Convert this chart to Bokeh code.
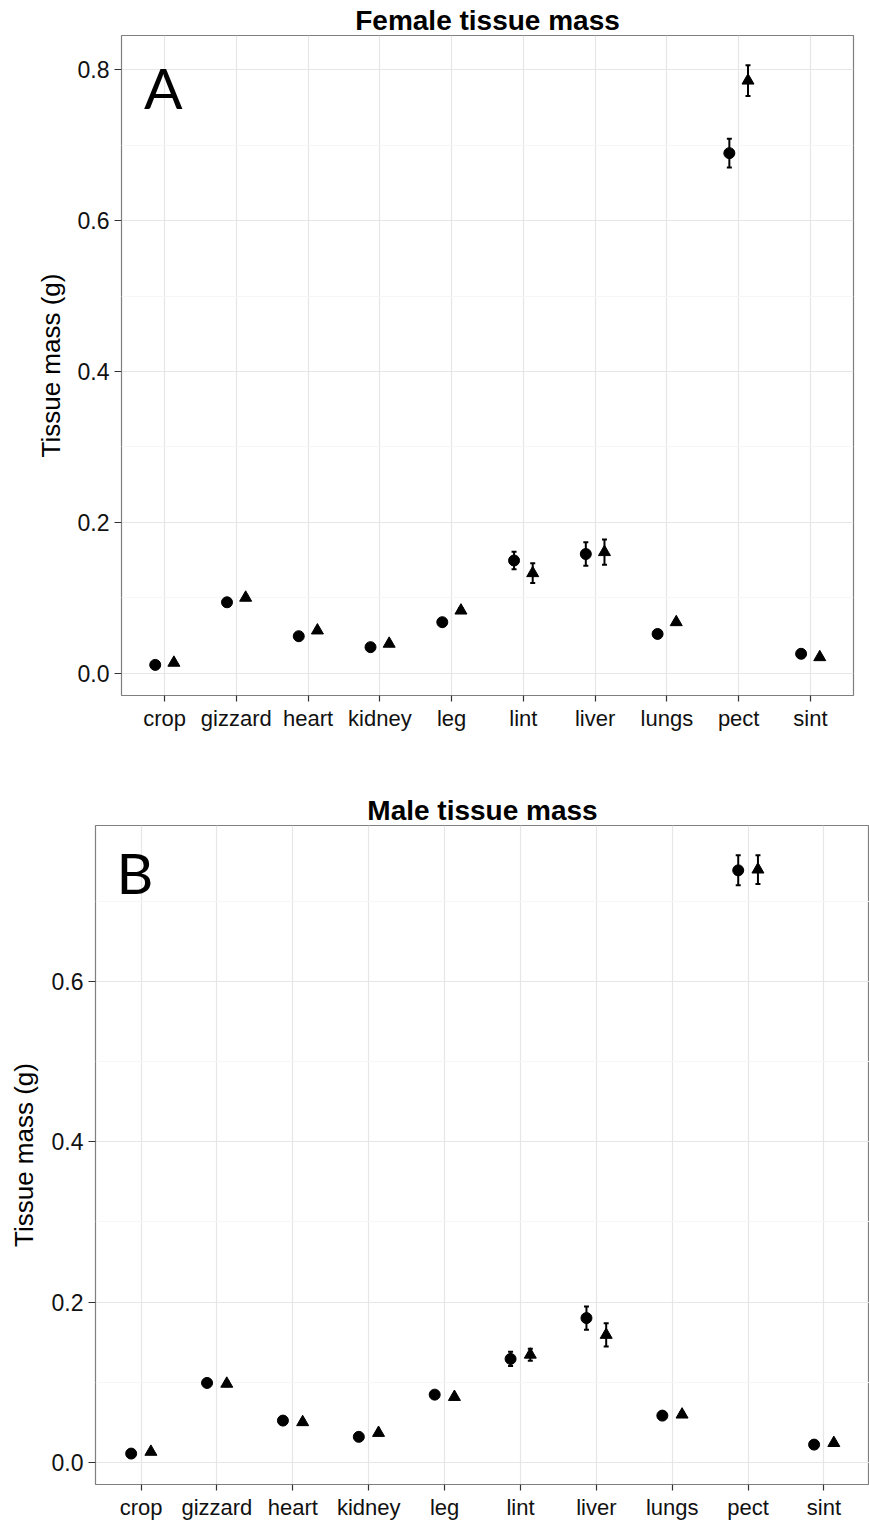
from bokeh.plotting import figure
from bokeh.layouts import column
from bokeh.models import (Range1d, FixedTicker, ColumnDataSource, Whisker, TeeHead,
                          Label, PrintfTickFormatter)
from bokeh.embed import file_html
from bokeh.resources import INLINE
import numpy as np

tissues = ["crop", "gizzard", "heart", "kidney", "leg", "lint", "liver", "lungs", "pect", "sint"]

# Female (panel A)
female_circle = [0.011, 0.094, 0.049, 0.0345, 0.0676, 0.1494, 0.158, 0.052, 0.6895, 0.0257]
female_circle_se = [0.002, 0.003, 0.003, 0.002, 0.003, 0.0117, 0.0155, 0.003, 0.019, 0.002]
female_triangle = [0.0138, 0.100, 0.0566, 0.039, 0.083, 0.1326, 0.1605, 0.0676, 0.7857, 0.0212]
female_triangle_se = [0.002, 0.003, 0.003, 0.002, 0.003, 0.013, 0.0168, 0.003, 0.0205, 0.002]

# Male (panel B)
male_circle = [0.0108, 0.099, 0.052, 0.0317, 0.0844, 0.129, 0.180, 0.0582, 0.739, 0.022]
male_circle_se = [0.002, 0.003, 0.003, 0.002, 0.003, 0.009, 0.0145, 0.003, 0.0187, 0.002]
male_triangle = [0.013, 0.098, 0.050, 0.0366, 0.0815, 0.1343, 0.159, 0.0595, 0.740, 0.024]
male_triangle_se = [0.002, 0.003, 0.003, 0.002, 0.003, 0.0075, 0.0145, 0.003, 0.018, 0.002]

y_major = [0.0, 0.2, 0.4, 0.6, 0.8]
y_minor = [0.1, 0.3, 0.5, 0.7]

FONT = "Liberation Sans"
DODGE = 0.13


def make_panel(title, circ, circ_se, tri, tri_se, y_rng, letter, letter_xy,
               height, borders, ylabel_standoff):
    left, right, top, bottom = borders
    p = figure(width=869, height=height, x_range=Range1d(0.4, 10.6),
               y_range=Range1d(*y_rng), output_backend="svg", toolbar_location=None,
               min_border_left=left, min_border_right=right,
               min_border_top=top, min_border_bottom=bottom, title=title)
    p.frame_align = False
    p.title.align = "center"
    p.title.text_font = FONT
    p.title.text_font_size = "28px"
    p.title.text_font_style = "bold"
    p.title.text_color = "black"
    p.title.standoff = 0
    p.title.offset = 0
    p.outline_line_color = "#7f7f7f"
    p.outline_line_width = 1.2
    p.background_fill_color = "white"
    p.border_fill_color = "white"

    pos = np.arange(1, len(tissues) + 1, dtype=float)
    p.xaxis.ticker = FixedTicker(ticks=list(pos))
    p.xaxis.major_label_overrides = {int(i): t for i, t in zip(pos, tissues)}
    p.yaxis.ticker = FixedTicker(ticks=y_major, minor_ticks=y_minor)
    p.yaxis.formatter = PrintfTickFormatter(format="%.1f")

    for ax in (p.xaxis[0], p.yaxis[0]):
        ax.axis_line_color = None
        ax.major_tick_line_color = "#333333"
        ax.major_tick_line_width = 1.2
        ax.major_tick_out = 6
        ax.major_tick_in = 0
        ax.minor_tick_line_color = None
        ax.major_label_text_font = FONT
        ax.major_label_text_color = "#111111"
    p.xaxis.major_label_text_font_size = "22px"
    p.xaxis.major_label_standoff = 4
    p.yaxis.major_label_text_font_size = "23px"
    p.yaxis.major_label_standoff = 5
    p.yaxis.major_tick_out = 7
    p.yaxis.axis_label = "Tissue mass (g)"
    p.yaxis.axis_label_text_font = FONT
    p.yaxis.axis_label_text_font_size = "26px"
    p.yaxis.axis_label_text_font_style = "normal"
    p.yaxis.axis_label_text_color = "black"
    p.yaxis.axis_label_standoff = ylabel_standoff

    p.xgrid.grid_line_color = "#e6e6e6"
    p.xgrid.grid_line_width = 1.2
    p.ygrid.grid_line_color = "#e6e6e6"
    p.ygrid.grid_line_width = 1.2
    p.ygrid.minor_grid_line_color = "#f6f6f6"
    p.ygrid.minor_grid_line_width = 1.0

    circ = np.array(circ); circ_se = np.array(circ_se)
    tri = np.array(tri); tri_se = np.array(tri_se)
    src_c = ColumnDataSource(dict(x=pos - DODGE, y=circ, lo=circ - circ_se, hi=circ + circ_se))
    src_t = ColumnDataSource(dict(x=pos + DODGE, y=tri, lo=tri - tri_se, hi=tri + tri_se))
    for src in (src_c, src_t):
        w = Whisker(source=src, base="x", lower="lo", upper="hi", dimension="height",
                    line_color="black", line_width=2,
                    lower_head=TeeHead(size=5, line_color="black", line_width=2),
                    upper_head=TeeHead(size=5, line_color="black", line_width=2))
        p.add_layout(w)
    p.scatter("x", "y", source=src_c, marker="circle", size=11, color="black")
    p.scatter("x", "y", source=src_t, marker="triangle", size=12, color="black")

    p.add_layout(Label(x=letter_xy[0], y=letter_xy[1], text=letter, text_font="Lato",
                       text_font_size="57px", text_align="center",
                       text_baseline="alphabetic", text_color="black"))
    return p


H_A = 760
pA = make_panel("Female tissue mass", female_circle, female_circle_se,
                female_triangle, female_triangle_se,
                (-0.0296, 0.8455), "A", (0.982, 0.7766), H_A,
                (121, 16, 35, H_A - 695), 9)
H_B = 762
pB = make_panel("Male tissue mass", male_circle, male_circle_se,
                male_triangle, male_triangle_se,
                (-0.0278, 0.795), "B", (0.918, 0.7365), H_B,
                (95, 0, 825 - H_A, H_A + H_B - 1485), 10)

layout = column(pA, pB)
open("out.html", "w").write(file_html(layout, INLINE))
